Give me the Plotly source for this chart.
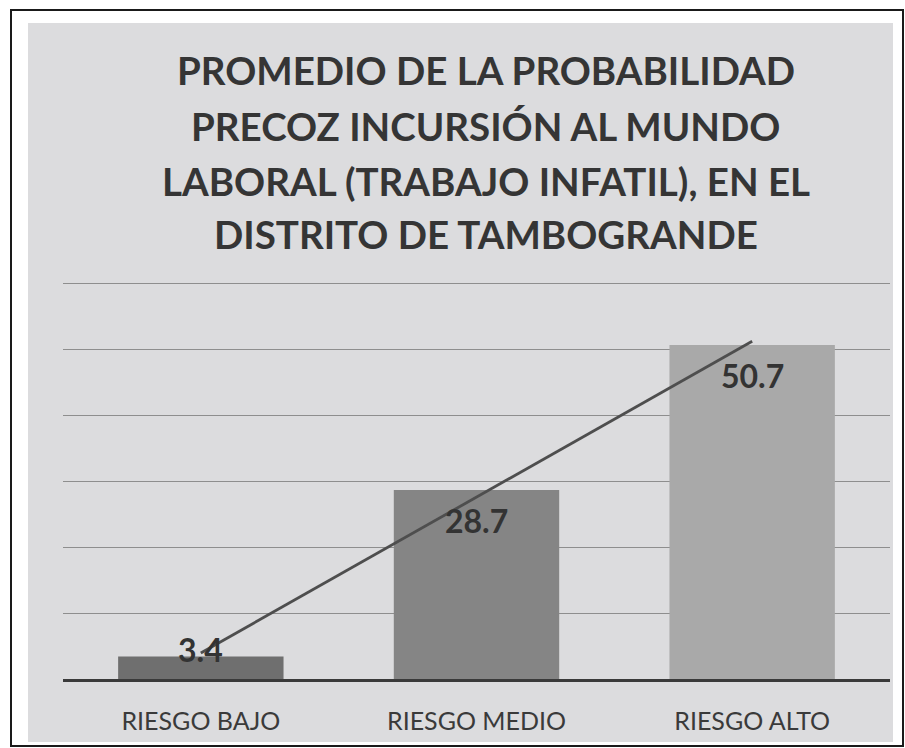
import numpy as np
import plotly.graph_objects as go

# ---- data ----
categories = ["RIESGO BAJO", "RIESGO MEDIO", "RIESGO ALTO"]
values = [3.4, 28.7, 50.7]
value_labels = ["3.4", "28.7", "50.7"]
title_lines = [
    "PROMEDIO DE LA PROBABILIDAD",
    "PRECOZ INCURSIÓN AL MUNDO",
    "LABORAL (TRABAJO INFATIL), EN EL",
    "DISTRITO DE TAMBOGRANDE",
]
y_ticks = [0, 10, 20, 30, 40, 50, 60]

# ---- layout geometry (pixels) ----
W, H = 905, 748
YMAX = 60.4
PL, PR, PB = 63, 890, 679
PT = round(PB - YMAX * 395 / 60)   # plot area top


def px_x(p):
    return (p - PL) / (PR - PL)


def px_y(p):
    return (PB - p) / (PB - PT)


bar_colors = ["#6f6f6f", "#858585", "#a9a9a9"]

fig = go.Figure()
fig.add_trace(go.Bar(
    x=categories, y=values, marker=dict(color=bar_colors, line=dict(width=0)),
    hoverinfo="skip", showlegend=False,
))

# linear trend line (fit to the data)
xi = np.arange(len(values))
slope, intercept = np.polyfit(xi, values, 1)
trend = slope * xi + intercept
fig.add_trace(go.Scatter(
    x=categories, y=trend, mode="lines",
    line=dict(color="#4e4e4e", width=2.8), hoverinfo="skip", showlegend=False,
))

# value labels (drawn on top)
for c, v, t in zip(categories, values, value_labels):
    small = v * (PB - PT) / YMAX < 40
    fig.add_annotation(
        x=c, y=v, xref="x", yref="y", text=t, showarrow=False,
        yanchor="middle", yshift=7 if small else -31,
        font=dict(family="Lato", size=32, color="#333333", weight="bold"),
    )

# title lines
title_centers = [70, 126, 181, 234]
for line, cy in zip(title_lines, title_centers):
    fig.add_annotation(
        x=px_x(486), y=px_y(cy), xref="paper", yref="paper", text=line,
        showarrow=False, xanchor="center", yanchor="middle",
        font=dict(family="Lato", size=38.5, color="#353535", weight="bold"),
    )

# backgrounds and frame
fig.add_shape(type="rect", xref="paper", yref="paper", layer="below",
              x0=px_x(28), x1=px_x(893), y0=px_y(742), y1=px_y(23),
              fillcolor="#dcdcde", line=dict(width=0))
fig.add_shape(type="rect", xref="paper", yref="paper", layer="below",
              x0=px_x(11), x1=px_x(903), y0=px_y(746), y1=px_y(10),
              fillcolor="rgba(0,0,0,0)", line=dict(color="#1a1a1a", width=2))

fig.update_layout(
    width=W, height=H,
    margin=dict(l=PL, r=W - PR, t=PT, b=H - PB, pad=0),
    paper_bgcolor="white", plot_bgcolor="rgba(0,0,0,0)",
    bargap=0.4,
    xaxis=dict(
        showline=True, linecolor="#3a3a3a", linewidth=3,
        showgrid=False, ticks="", ticklabelstandoff=18,
        tickfont=dict(family="Lato", size=25, color="#3a3a3a"),
    ),
    yaxis=dict(
        range=[0, YMAX], tickvals=y_ticks, showticklabels=False,
        showgrid=True, gridcolor="#8e8e8e", gridwidth=1.2,
        zeroline=False, showline=False, ticks="",
    ),
)

fig.write_html(
    "out.html",
    config={"displayModeBar": False},
    post_script="document.body.style.margin='0';document.body.style.overflow='hidden';",
)
